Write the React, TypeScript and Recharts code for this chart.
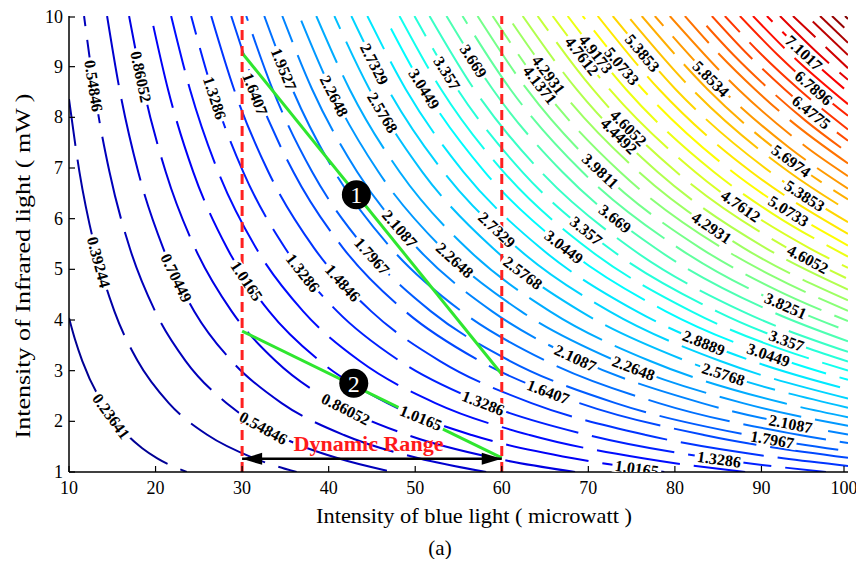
import { ComposedChart, Line, XAxis, YAxis } from 'recharts'

// contour levels (one per drawn line)
const levels = [
  0.23641, 0.39244, 0.54846, 0.70449, 0.86052, 1.0165, 1.1726, 1.3286, 1.4846, 1.6407,
  1.7967, 1.9527, 2.1087, 2.2648, 2.4208, 2.5768, 2.7329, 2.8889, 3.0449, 3.201,
  3.357, 3.5131, 3.6691, 3.8251, 3.9811, 4.1371, 4.2931, 4.4492, 4.6052, 4.7612,
  4.9173, 5.0733, 5.2293, 5.3853, 5.5414, 5.6974, 5.8534, 6.0095, 6.1655, 6.3215,
  6.4775, 6.6336, 6.7896, 6.9457, 7.1017, 7.2577, 7.4138, 7.5698, 7.7258, 7.8818, 8.0379,
]

// points: [blue light, infrared]
const contourLines: number[][][] = [
  [[10, 4.04], [10.67, 3.63], [11.54, 3.19], [13.85, 2.36], [16.73, 1.73], [18.46, 1.47], [20.2, 1.27], [23.6, 1]],
  [[10, 8.36], [11.21, 6.92], [13.01, 5.42], [15.25, 4.17], [17.94, 3.19], [21.53, 2.36], [26.01, 1.73], [31.4, 1.27], [36.3, 1]],
  [[11.74, 10], [12.91, 8.55], [14.68, 6.92], [17.02, 5.42], [19.96, 4.17], [23.48, 3.19], [28.18, 2.36], [34.05, 1.73], [41.09, 1.27], [47.45, 1]],
  [[14.4, 10], [15.84, 8.55], [18, 6.92], [20.88, 5.42], [24.48, 4.17], [28.8, 3.19], [34.56, 2.36], [41.76, 1.73], [50.4, 1.27], [58.2, 1]],
  [[16.94, 10], [18.63, 8.55], [21.18, 6.92], [24.56, 5.42], [28.8, 4.17], [33.88, 3.19], [40.66, 2.36], [49.13, 1.73], [59.29, 1.27], [68.47, 1]],
  [[19.49, 10], [21.44, 8.55], [24.36, 6.92], [28.26, 5.42], [33.13, 4.17], [38.98, 3.19], [46.78, 2.36], [56.52, 1.73], [68.22, 1.27], [78.78, 1]],
  [[21.8, 10], [23.98, 8.55], [27.25, 6.92], [31.61, 5.42], [37.06, 4.17], [43.6, 3.19], [52.32, 2.36], [63.22, 1.73], [76.3, 1.27], [88.12, 1]],
  [[24.11, 10], [26.52, 8.55], [30.14, 6.92], [34.96, 5.42], [40.99, 4.17], [48.22, 3.19], [57.86, 2.36], [69.92, 1.73], [84.39, 1.27], [97.45, 1]],
  [[26.43, 10], [29.07, 8.55], [33.04, 6.92], [38.32, 5.42], [44.93, 4.17], [52.86, 3.19], [63.43, 2.36], [76.65, 1.73], [92.5, 1.27], [100, 1.12]],
  [[28.74, 10], [31.61, 8.55], [35.93, 6.92], [41.67, 5.42], [48.86, 4.17], [57.48, 3.19], [68.98, 2.36], [83.35, 1.73], [100, 1.28]],
  [[30.48, 10], [33.53, 8.55], [38.1, 6.92], [44.2, 5.42], [51.82, 4.17], [60.96, 3.19], [73.15, 2.36], [88.39, 1.73], [100, 1.41]],
  [[32.56, 10], [35.82, 8.55], [40.7, 6.92], [47.21, 5.42], [55.35, 4.17], [65.12, 3.19], [78.14, 2.36], [94.42, 1.73], [100, 1.57]],
  [[34.64, 10], [38.1, 8.55], [43.3, 6.92], [50.23, 5.42], [58.89, 4.17], [69.28, 3.19], [83.14, 2.36], [100, 1.74]],
  [[36.61, 10], [40.27, 8.55], [45.76, 6.92], [53.08, 5.42], [62.24, 4.17], [73.22, 3.19], [87.86, 2.36], [100, 1.91]],
  [[38.57, 10], [42.43, 8.55], [48.21, 6.92], [55.93, 5.42], [65.57, 4.17], [77.14, 3.19], [92.57, 2.36], [100, 2.08]],
  [[40.66, 10], [44.73, 8.55], [50.83, 6.92], [58.96, 5.42], [69.12, 4.17], [81.32, 3.19], [100, 2.27]],
  [[42.62, 10], [46.88, 8.55], [53.28, 6.92], [61.8, 5.42], [72.45, 4.17], [85.24, 3.19], [100, 2.45]],
  [[44.47, 10], [48.92, 8.55], [55.59, 6.92], [64.48, 5.42], [75.6, 4.17], [88.94, 3.19], [100, 2.63]],
  [[46.44, 10], [51.08, 8.55], [58.05, 6.92], [67.34, 5.42], [78.95, 4.17], [92.88, 3.19], [100, 2.82]],
  [[48.18, 10], [53, 8.55], [60.23, 6.92], [69.86, 5.42], [81.91, 4.17], [100, 3.0]],
  [[49.91, 10], [54.9, 8.55], [62.39, 6.92], [72.37, 5.42], [84.85, 4.17], [100, 3.18]],
  [[51.65, 10], [56.82, 8.55], [64.56, 6.92], [74.89, 5.42], [87.81, 4.17], [100, 3.37]],
  [[53.61, 10], [58.97, 8.55], [67.01, 6.92], [77.73, 5.42], [91.14, 4.17], [100, 3.58]],
  [[55.46, 10], [61.01, 8.55], [69.33, 6.92], [80.42, 5.42], [94.28, 4.17], [100, 3.78]],
  [[57.2, 10], [62.92, 8.55], [71.5, 6.92], [82.94, 5.42], [91.52, 4.61], [100, 3.98]],
  [[58.94, 10], [64.83, 8.55], [73.68, 6.92], [85.46, 5.42], [91.36, 4.86], [100, 4.18]],
  [[60.67, 10], [66.74, 8.55], [75.84, 6.92], [87.97, 5.42], [100, 4.39]],
  [[62.41, 10], [68.65, 8.55], [78.01, 6.92], [90.49, 5.42], [100, 4.6]],
  [[64.14, 10], [70.55, 8.55], [80.18, 6.92], [93, 5.42], [100, 4.81]],
  [[65.88, 10], [72.47, 8.55], [82.35, 6.92], [95.53, 5.42], [100, 5.03]],
  [[67.61, 10], [74.37, 8.55], [84.51, 6.92], [91.27, 6.1], [100, 5.25]],
  [[69.35, 10], [76.29, 8.55], [86.69, 6.92], [93.62, 6.1], [100, 5.47]],
  [[71.08, 10], [78.19, 8.55], [83.87, 7.61], [88.85, 6.92], [100, 5.7]],
  [[72.82, 10], [80.1, 8.55], [91.03, 6.92], [100, 5.93]],
  [[74.55, 10], [82.01, 8.55], [93.19, 6.92], [100, 6.16]],
  [[76.17, 10], [83.79, 8.55], [95.21, 6.92], [100, 6.38]],
  [[77.68, 10], [85.45, 8.55], [93.22, 7.4], [100, 6.59]],
  [[79.41, 10], [87.35, 8.55], [95.29, 7.4], [100, 6.84]],
  [[81.15, 10], [85.21, 9.23], [89.27, 8.55], [93.32, 7.94], [100, 7.09]],
  [[82.65, 10], [86.78, 9.23], [90.92, 8.55], [95.05, 7.94], [100, 7.3]],
  [[84.27, 10], [88.48, 9.23], [92.7, 8.55], [96.91, 7.94], [100, 7.54]],
  [[85.77, 10], [90.06, 9.23], [94.35, 8.55], [100, 7.76]],
  [[87.51, 10], [91.89, 9.23], [96.26, 8.55], [100, 8.03]],
  [[89.02, 10], [93.47, 9.23], [100, 8.26]],
  [[90.63, 10], [95.16, 9.23], [100, 8.5]],
  [[92.14, 10], [96.75, 9.23], [100, 8.74]],
  [[93.64, 10], [100, 8.97]],
  [[95.26, 10], [100, 9.23]],
  [[96.77, 10], [100, 9.47]],
  [[98.15, 10], [100, 9.7]],
  [[99.66, 10], [100, 9.94]],
]

// inline contour labels: text, x, y, rotation
const contourLabels: [string, number, number, number][] = [
  ['0.54846', 12.85, 8.62, 81], ['0.86052', 18.31, 8.8, 78], ['1.3286', 26.84, 8.38, 72],
  ['1.6407', 31.5, 8.46, 69], ['1.9527', 34.83, 8.95, 68], ['2.2648', 40.63, 8.42, 63],
  ['2.7329', 45.28, 9.05, 63], ['2.5768', 46.23, 8.09, 59], ['3.0449', 51.03, 8.56, 58],
  ['3.357', 53.67, 8.87, 58], ['3.669', 56.73, 9.11, 57], ['4.2931', 65.4, 8.84, 53],
  ['4.1371', 64.4, 8.64, 52], ['4.9173', 70.88, 9.25, 52], ['4.7612', 69.25, 9.21, 52],
  ['5.0733', 73.88, 9.01, 50], ['5.3853', 76.25, 9.27, 50], ['5.8534', 84.17, 8.76, 45],
  ['7.1017', 94.9, 9.27, 43], ['6.7896', 96.03, 8.58, 41], ['6.4775', 95.76, 8.1, 39],
  ['4.6052', 74.63, 7.79, 45], ['4.4492', 73.54, 7.63, 45], ['5.6974', 93.44, 7.14, 36],
  ['5.3853', 95.0, 6.45, 33], ['5.0733', 93.13, 6.15, 32], ['4.7612', 87.61, 6.25, 35],
  ['4.2931', 84.25, 5.82, 34], ['4.6052', 95.36, 5.2, 28], ['3.8251', 92.8, 4.28, 24],
  ['3.9811', 71.39, 6.94, 43], ['3.669', 73.08, 6.0, 38], ['3.357', 69.74, 5.76, 39],
  ['3.0449', 67.18, 5.44, 38], ['2.7329', 59.43, 5.78, 43], ['2.5768', 62.43, 4.93, 37],
  ['2.2648', 54.56, 5.18, 42], ['2.1087', 48.2, 5.8, 49], ['1.7967', 45.0, 5.26, 48],
  ['1.4846', 41.62, 4.73, 48], ['1.3286', 37.02, 4.93, 52], ['1.0165', 30.53, 4.77, 56],
  ['0.70449', 22.39, 4.83, 64], ['0.39244', 13.43, 5.14, 75], ['0.23641', 14.87, 2.1, 54],
  ['0.54846', 32.46, 1.87, 29], ['0.86052', 41.97, 2.24, 27], ['1.0165', 50.66, 2.07, 22],
  ['1.3286', 57.86, 2.36, 21], ['1.6407', 65.36, 2.58, 21], ['2.1087', 68.49, 3.25, 25],
  ['2.2648', 75.23, 3.05, 21], ['2.5768', 85.61, 2.93, 18], ['2.8889', 83.34, 3.55, 22],
  ['3.0449', 90.81, 3.31, 19], ['3.357', 92.9, 3.59, 20], ['2.1087', 93.37, 1.95, 11],
  ['1.7967', 91.25, 1.64, 10], ['1.3286', 85.1, 1.25, 8], ['1.0165', 75.6, 1.07, 8],
]

const xTicks = [10, 20, 30, 40, 50, 60, 70, 80, 90, 100]
const yTicks = [1, 2, 3, 4, 5, 6, 7, 8, 9, 10]
const pathOne = [[30, 9.27], [60, 2.93]]
const pathTwo = [[30, 3.78], [60, 1.28]]
const rangeEdges = [30, 60]
const rangeArrowY = 1.26
const markers = [
  { x: 43.2, y: 6.47, text: '1' },
  { x: 42.9, y: 2.75, text: '2' },
]
const rangeCaption = [{ x: 44.6, y: 1.55, text: 'Dynamic Range' }]

const serif = "'Liberation Serif', 'Times New Roman', serif"

function jet(level: number) {
  const t = (level - 0.08) / (8.05 - 0.08)
  const c = (v: number) => Math.round(255 * Math.max(0, Math.min(1, v)))
  return `rgb(${c(1.5 - Math.abs(4 * t - 3))},${c(1.5 - Math.abs(4 * t - 2))},${c(1.5 - Math.abs(4 * t - 1))})`
}

const toPts = (arr: number[][]) => arr.map(([x, y]) => ({ x, y }))

function BottomTick(p: any) {
  return (
    <g>
      <line x1={p.x} y1={p.y} x2={p.x} y2={p.y - 6} stroke="#000" strokeWidth={1.2} />
      <text x={p.x} y={p.y + 22} textAnchor="middle" fontFamily={serif} fontSize={18} fill="#000">{p.payload.value}</text>
    </g>
  )
}
function TopTick(p: any) {
  return <line x1={p.x} y1={p.y} x2={p.x} y2={p.y + 6} stroke="#000" strokeWidth={1.2} />
}
function LeftTick(p: any) {
  return (
    <g>
      <line x1={p.x} y1={p.y} x2={p.x + 6} y2={p.y} stroke="#000" strokeWidth={1.2} />
      <text x={p.x - 6} y={p.y + 6} textAnchor="end" fontFamily={serif} fontSize={18} fill="#000">{p.payload.value}</text>
    </g>
  )
}
function RightTick(p: any) {
  return <line x1={p.x} y1={p.y} x2={p.x - 6} y2={p.y} stroke="#000" strokeWidth={1.2} />
}

function renderLabel(p: any) {
  const { cx, cy, payload, index } = p
  const w = payload.text.length * 8.2
  return (
    <g key={`lab-${index}`} transform={`translate(${cx},${cy}) rotate(${payload.angle})`}>
      <rect x={-w / 2} y={-6.5} width={w} height={13} fill="#fff" />
      <text x={0} y={5.5} textAnchor="middle" fontFamily={serif} fontWeight="bold" fontSize={16} fill="#000">{payload.text}</text>
    </g>
  )
}

function renderArrowHead(p: any) {
  const { cx, cy, index } = p
  const d = index === 0 ? 1 : -1
  return <polygon key={`ah-${index}`} points={`${cx},${cy} ${cx + d * 20},${cy - 6} ${cx + d * 20},${cy + 6}`} fill="#000" />
}

function renderMarker(p: any) {
  const { cx, cy, payload, index } = p
  return (
    <g key={`mk-${index}`}>
      <circle cx={cx} cy={cy} r={14.5} fill="#000" />
      <text x={cx} y={cy + 8.5} textAnchor="middle" fontFamily={serif} fontSize={24} fill="#fff">{payload.text}</text>
    </g>
  )
}

function renderCaption(p: any) {
  const { cx, cy, payload, index } = p
  return (
    <text key={`cap-${index}`} x={cx} y={cy + 7} textAnchor="middle" fontFamily={serif} fontWeight="bold"
      fontSize={21} fill="#ff1a1a" textLength={150} lengthAdjust="spacingAndGlyphs">{payload.text}</text>
  )
}

export default function App() {
  const labelData = contourLabels.map(([text, x, y, angle]) => ({ x, y, text, angle }))
  return (
    <div style={{ position: 'relative', width: 848, height: 551 }}>
      <style>{'.recharts-surface{overflow:visible}'}</style>
      <ComposedChart width={848} height={551} margin={{ top: 8, right: 8, bottom: 57, left: 16 }}>
        <XAxis type="number" dataKey="x" domain={[10, 100]} ticks={xTicks} allowDataOverflow
          stroke="#000" strokeWidth={1.5} tickLine={false} tickSize={0} tickMargin={0} height={30} tick={BottomTick} />
        <XAxis xAxisId="top" orientation="top" type="number" dataKey="x" domain={[10, 100]} ticks={xTicks} allowDataOverflow
          stroke="#000" strokeWidth={1.5} tickLine={false} tickSize={0} tickMargin={0} height={0} tick={TopTick} />
        <YAxis type="number" dataKey="y" domain={[1, 10]} ticks={yTicks} allowDataOverflow
          stroke="#000" strokeWidth={1.5} tickLine={false} tickSize={0} tickMargin={0} width={45} tick={LeftTick} />
        <YAxis yAxisId="right" orientation="right" type="number" domain={[1, 10]} ticks={yTicks} allowDataOverflow
          stroke="#000" strokeWidth={1.5} tickLine={false} tickSize={0} tickMargin={0} width={0} tick={RightTick} />

        {contourLines.map((pts, i) => (
          <Line key={`c-${i}`} data={toPts(pts)} dataKey="y" type="monotone" stroke={jet(levels[i])}
            strokeWidth={2} strokeDasharray="84 14" strokeDashoffset={(i * 37) % 97}
            dot={false} activeDot={false} isAnimationActive={false} />
        ))}

        <Line data={labelData} dataKey="y" stroke="none" dot={renderLabel} activeDot={false} isAnimationActive={false} />

        <Line data={toPts(pathOne)} dataKey="y" type="linear" stroke="#2fe62f" strokeWidth={3} dot={false} activeDot={false} isAnimationActive={false} />
        <Line data={toPts(pathTwo)} dataKey="y" type="linear" stroke="#2fe62f" strokeWidth={3} dot={false} activeDot={false} isAnimationActive={false} />

        {rangeEdges.map((x) => (
          <Line key={`r-${x}`} data={[{ x, y: 1 }, { x, y: 10 }]} dataKey="y" type="linear" stroke="#ff2020"
            strokeWidth={3} strokeDasharray="10 6" dot={false} activeDot={false} isAnimationActive={false} />
        ))}

        <Line data={rangeEdges.map((x) => ({ x, y: rangeArrowY }))} dataKey="y" type="linear" stroke="#000"
          strokeWidth={2.5} dot={renderArrowHead} activeDot={false} isAnimationActive={false} />

        <Line data={markers} dataKey="y" stroke="none" dot={renderMarker} activeDot={false} isAnimationActive={false} />
        <Line data={rangeCaption} dataKey="y" stroke="none" dot={renderCaption} activeDot={false} isAnimationActive={false} />
      </ComposedChart>

      <svg width={848} height={551} style={{ position: 'absolute', left: 0, top: 0, pointerEvents: 'none', overflow: 'visible' }}>
        <text x={466} y={515} textAnchor="middle" fontFamily={serif} fontSize={21} fill="#000"
          textLength={316} lengthAdjust="spacingAndGlyphs">Intensity of blue light ( microwatt )</text>
        <text transform="translate(22,258) rotate(-90)" textAnchor="middle" fontFamily={serif} fontSize={21} fill="#000"
          textLength={345} lengthAdjust="spacingAndGlyphs">Intensity of Infrared light ( mW )</text>
        <text x={432} y={547} textAnchor="middle" fontFamily={serif} fontSize={21} fill="#000">(a)</text>
      </svg>
    </div>
  )
}
